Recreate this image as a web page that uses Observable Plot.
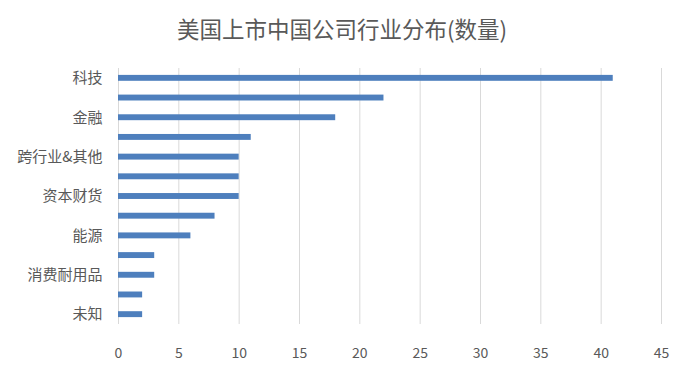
<!DOCTYPE html>
<html>
<head>
<meta charset="utf-8">
<script src="https://cdn.jsdelivr.net/npm/d3@7"></script>
<script src="https://cdn.jsdelivr.net/npm/@observablehq/plot@0.6"></script>
<style>
  html, body { margin: 0; padding: 0; background: #fff; }
  #wrap { width: 684px; height: 380px; font-family: "Noto Sans CJK SC", "Noto Sans", sans-serif; }
  #title { height: 50px; line-height: 56px; text-align: center; font-size: 22.5px; color: #595959; }
  #chart svg { display: block; }
</style>
</head>
<body>
<div id="wrap">
  <div id="title">美国上市中国公司行业分布(数量)</div>
  <div id="chart"></div>
</div>
<script>
// Category labels as shown (every other label is hidden in the original)
const labels = ["科技", "", "金融", "", "跨行业&其他", "", "资本财货", "", "能源", "", "消费耐用品", "", "未知"];
const counts = [41, 22, 18, 11, 10, 10, 10, 8, 6, 3, 3, 2, 2];
const xTicks = [0, 5, 10, 15, 20, 25, 30, 35, 40, 45];

const data = labels.map((l, i) => ({idx: i, label: l, value: counts[i]}));

const chart = Plot.plot({
  width: 684,
  height: 330,
  marginTop: 18,
  marginBottom: 56,
  marginLeft: 118,
  marginRight: 23,
  style: {fontFamily: '"Noto Sans CJK SC", "Noto Sans", sans-serif', color: "#595959", background: "#fff"},
  x: {domain: [0, 45], ticks: xTicks, grid: false, label: null},
  y: {domain: d3.range(labels.length), paddingInner: 0.7, paddingOuter: 0.35, round: false, label: null},
  marks: [
    Plot.ruleX(xTicks, {stroke: "#d9d9d9", strokeWidth: 1, strokeOpacity: 1}),
    Plot.barX(data, {x: "value", y: "idx", fill: "#4e7fbd"}),
    Plot.axisX({ticks: xTicks, tickSize: 0, tickPadding: 24, fontSize: 14, fill: "#595959", label: null}),
    Plot.axisY({tickSize: 0, tickPadding: 16, fontSize: 15, fill: "#595959", label: null,
      tickFormat: i => labels[i]})
  ]
});
document.getElementById("chart").appendChild(chart);
</script>
</body>
</html>
